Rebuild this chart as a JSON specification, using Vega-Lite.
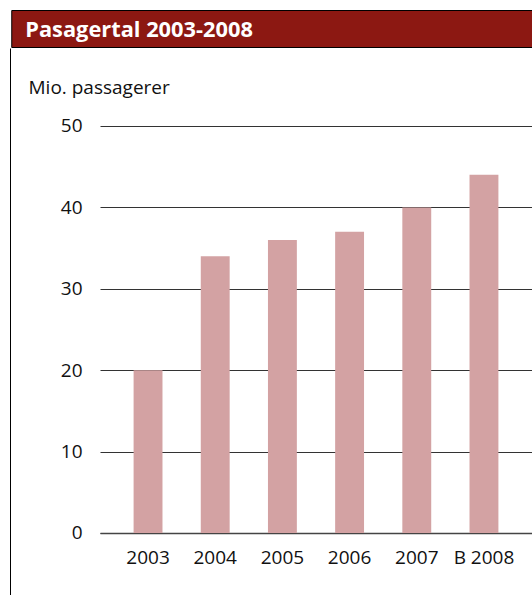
{
  "$schema": "https://vega.github.io/schema/vega-lite/v6.json",
  "padding": {"left": 10, "top": 9, "right": 0, "bottom": 0},
  "background": "white",
  "spacing": 0,
  "center": true,
  "config": {
    "view": {"stroke": null},
    "font": "Open Sans"
  },
  "vconcat": [
    {
      "width": 609,
      "height": 37,
      "view": {"fill": "#8c1812", "stroke": "#000000", "strokeWidth": 1},
      "data": {"values": [{"t": "Pasagertal 2003-2008"}]},
      "mark": {"type": "text", "x": 14, "y": 20, "align": "left", "baseline": "middle", "font": "Open Sans", "fontWeight": "bold", "fontSize": 21.8, "color": "white"},
      "encoding": {"text": {"field": "t", "type": "nominal"}}
    },
    {
      "width": 432,
      "height": 548,
      "data": {"values": [
        {"year": "2003", "value": 20},
        {"year": "2004", "value": 34},
        {"year": "2005", "value": 36},
        {"year": "2006", "value": 37},
        {"year": "2007", "value": 40},
        {"year": "B 2008", "value": 44}
      ]},
      "mark": {"type": "bar", "color": "#d3a2a3"},
      "encoding": {
        "x": {
          "field": "year", "type": "nominal", "sort": null,
          "scale": {"paddingInner": 0.57, "paddingOuter": 0.5},
          "axis": {
            "title": null, "orient": "bottom", "offset": -63,
            "domainColor": "#444444", "domainWidth": 1.5,
            "ticks": false, "labelAngle": 0, "labelPadding": 15,
            "labelFont": "Open Sans", "labelFontSize": 19, "labelColor": "#111111"
          }
        },
        "y": {
          "field": "value", "type": "quantitative",
          "scale": {"domain": [-7.74, 59.58], "nice": false, "zero": false},
          "axis": {
            "values": [0, 10, 20, 30, 40, 50],
            "orient": "left", "offset": 90,
            "domain": true, "domainColor": "#000000", "domainWidth": 1,
            "ticks": false, "labelPadding": -72,
            "labelFont": "Open Sans", "labelFontSize": 19, "labelColor": "#111111",
            "grid": true, "gridColor": "#333333", "gridWidth": 1, "gridOpacity": 1,
            "title": "Mio. passagerer", "titleAngle": 0, "titleAlign": "left",
            "titleBaseline": "middle", "titleX": 18, "titleY": 39,
            "titleFont": "Open Sans", "titleFontSize": 19, "titleFontWeight": "normal", "titleColor": "#111111"
          }
        },
        "y2": {"datum": 0}
      }
    }
  ]
}
